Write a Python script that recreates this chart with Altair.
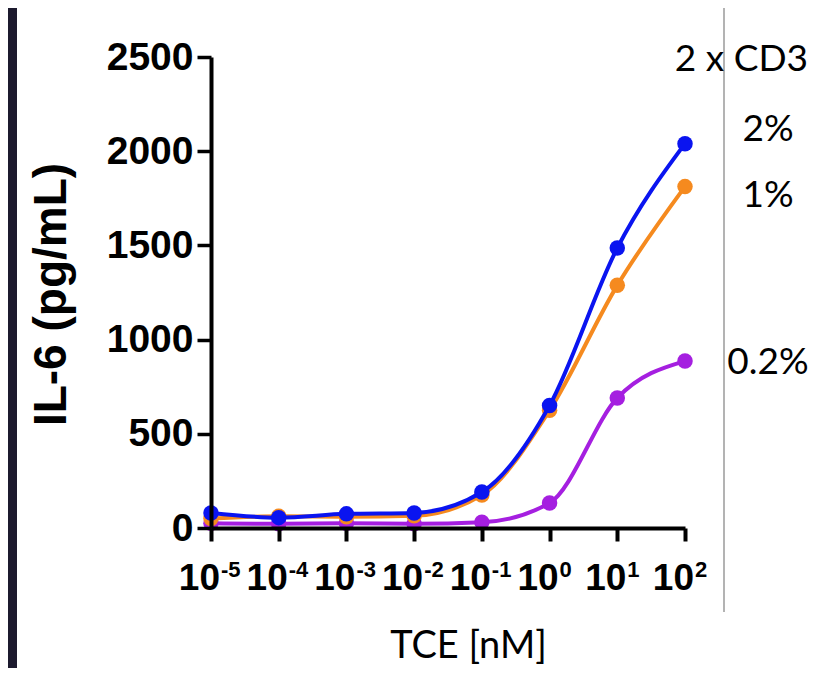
import altair as alt
import pandas as pd

# ---- data ----
conc = [1e-5, 1e-4, 1e-3, 1e-2, 1e-1, 1e0, 1e1, 1e2]
series_names = ["0.2%", "1%", "2%"]
il6_02 = [25, 22, 25, 22, 30, 133, 690, 886]
il6_1 = [50, 62, 60, 65, 175, 625, 1288, 1812]
il6_2 = [80, 55, 75, 80, 191, 650, 1486, 2040]
series_values = [il6_02, il6_1, il6_2]
series_colors = ["#a51fe0", "#f58a1f", "#0a14f0"]

x_ticks = [1e-5, 1e-4, 1e-3, 1e-2, 1e-1, 1e0, 1e1, 1e2]
x_tick_base = "10"
x_tick_exponents = ["-5", "-4", "-3", "-2", "-1", "0", "1", "2"]
y_ticks = [0, 500, 1000, 1500, 2000, 2500]

header_label = "2 x CD3"
x_title = "TCE [nM]"
y_title = "IL-6 (pg/mL)"

rows = []
for name, vals in zip(series_names, series_values):
    for c, v in zip(conc, vals):
        rows.append({"conc": c, "il6": v, "series": name})
df = pd.DataFrame(rows)
tick_df = pd.DataFrame({"conc": x_ticks, "base": [x_tick_base] * len(x_ticks), "exp": x_tick_exponents})

PW, PH = 474, 471
DARK = "#1c1a2e"

x_scale = alt.Scale(type="log", domain=[1e-5, 1e2], nice=False)
y_scale = alt.Scale(domain=[0, 2500], nice=False, zero=True)

x_axis = alt.Axis(
    values=x_ticks, labels=False, grid=False, zindex=1,
    domainColor="black", domainWidth=4, tickColor="black", tickWidth=4, tickSize=13,
    title=x_title, titleFont="Lato", titleFontWeight="normal", titleFontSize=38,
    titleColor="black", titleX=257, titleY=118, titleBaseline="middle", titleAlign="center",
)
y_axis = alt.Axis(
    values=y_ticks, format="d", grid=False, zindex=1,
    labelFont="Liberation Sans", labelFontWeight="bold", labelFontSize=39,
    labelColor="black", labelPadding=4, labelFlush=False,
    domainColor="black", domainWidth=4, tickColor="black", tickWidth=3.5, tickSize=14,
    title=y_title, titleFont="Liberation Sans", titleFontWeight="bold", titleFontSize=46,
    titleColor="black", titleX=-160, titleY=237, titleBaseline="middle", titleAlign="center",
    titleAngle=270,
)

one = alt.Data(values=[{}])

white = alt.Chart(one).mark_rect(color="white").encode(
    x=alt.value(-194), x2=alt.value(620), y=alt.value(-49), y2=alt.value(620)
)
divider = alt.Chart(one).mark_rule(color="#9a9a9a", strokeWidth=1.5).encode(
    x=alt.value(513), y=alt.value(-49), y2=alt.value(555)
)

layers = [white, divider]
for name, color in zip(series_names, series_colors):
    sub = df[df["series"] == name]
    xe = alt.X("conc:Q", scale=x_scale, axis=x_axis)
    ye = alt.Y("il6:Q", scale=y_scale, axis=y_axis)
    line = alt.Chart(sub).mark_line(color=color, strokeWidth=4, interpolate="monotone").encode(x=xe, y=ye)
    pts = alt.Chart(sub).mark_circle(color=color, size=240, opacity=1).encode(x=xe, y=ye)
    layers += [line, pts]

# x tick labels: "10" with raised exponent
tick_base = alt.Chart(tick_df).mark_text(
    font="Liberation Sans", fontWeight="bold", fontSize=37, color="black",
    align="right", baseline="alphabetic", dx=9,
).encode(x=alt.X("conc:Q", scale=x_scale, axis=x_axis), y=alt.value(533), text="base:N")
tick_exp = alt.Chart(tick_df).mark_text(
    font="Liberation Sans", fontWeight="bold", fontSize=22, color="black",
    align="left", baseline="alphabetic", dx=10,
).encode(x=alt.X("conc:Q", scale=x_scale, axis=x_axis), y=alt.value(520), text="exp:N")

text_style = dict(font="Lato", fontSize=37, color="black", baseline="middle")
header = alt.Chart(one).mark_text(align="right", **text_style).encode(
    x=alt.value(597), y=alt.value(3), text=alt.value(header_label))
lab_pos = {"2%": 73, "1%": 139, "0.2%": 306}
text_layers = [tick_base, tick_exp, header]
for name in ["2%", "1%", "0.2%"]:
    text_layers.append(alt.Chart(one).mark_text(align="center", **text_style).encode(
        x=alt.value(557), y=alt.value(lab_pos[name]), text=alt.value(name)))

chart = alt.layer(*layers, *text_layers).properties(
    width=PW, height=PH,
    autosize=alt.AutoSizeParams(type="none"),
    padding={"left": 203, "top": 49, "right": 130, "bottom": 140},
    background=DARK,
).configure_view(stroke=None)

chart.save("out.html", embed_options={"renderer": "svg", "actions": False})
